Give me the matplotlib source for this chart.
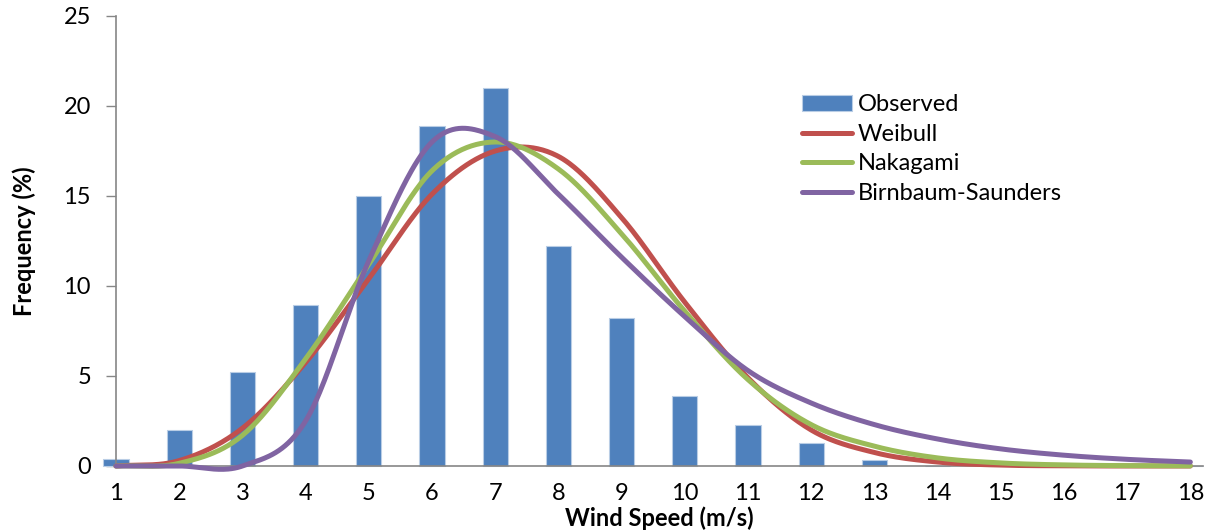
import numpy as np
import matplotlib.pyplot as plt

# wind speed classes (m/s) and frequencies (%)
speed = np.arange(1, 19)
observed = [0.4, 2.0, 5.25, 8.95, 15.0, 18.9, 21.0, 12.2, 8.25, 3.9, 2.3, 1.3, 0.33, 0, 0, 0, 0, 0]
weibull = [0.0, 0.3, 2.1, 5.75, 10.4, 15.1, 17.5, 17.2, 13.8, 9.1, 4.9, 2.0, 0.75, 0.22, 0.05, 0.01, 0.0, 0.0]
nakagami = [0.0, 0.15, 1.7, 5.95, 11.2, 16.4, 18.0, 16.5, 12.9, 8.6, 4.8, 2.3, 1.1, 0.45, 0.17, 0.06, 0.02, 0.01]
birnbaum = [0.0, 0.0, 0.0, 2.5, 11.4, 18.0, 18.3, 15.1, 11.6, 8.3, 5.3, 3.5, 2.3, 1.5, 0.95, 0.6, 0.37, 0.22]


def smooth(x, y, n=40):
    # Excel style smoothed line (Catmull-Rom through the points)
    x = np.asarray(x, float)
    y = np.asarray(y, float)
    m = np.gradient(y)
    xs, ys = [], []
    for i in range(len(x) - 1):
        t = np.linspace(0, 1, n, endpoint=False)
        h00 = 2 * t**3 - 3 * t**2 + 1
        h10 = t**3 - 2 * t**2 + t
        h01 = -2 * t**3 + 3 * t**2
        h11 = t**3 - t**2
        xs.append(x[i] + t * (x[i + 1] - x[i]))
        ys.append(h00 * y[i] + h10 * m[i] + h01 * y[i + 1] + h11 * m[i + 1])
    xs.append([x[-1]])
    ys.append([y[-1]])
    return np.concatenate(xs), np.concatenate(ys)


plt.rcParams['font.family'] = ['Lato', 'DejaVu Sans']

fig = plt.figure(figsize=(12.12, 5.32), dpi=100)
ax = fig.add_axes([116 / 1212, 66 / 532, 1087 / 1212, 450 / 532])

bars = ax.bar(speed, observed, width=0.4, color='#4F81BD', edgecolor='#B9CDE5',
              linewidth=0.8, clip_on=False, zorder=2)
lines = []
for vals, col, name in [(weibull, '#C0504D', 'Weibull'),
                        (nakagami, '#9BBB59', 'Nakagami'),
                        (birnbaum, '#8064A2', 'Birnbaum-Saunders')]:
    sx, sy = smooth(speed, vals)
    ln, = ax.plot(sx, sy, color=col, lw=3.6, solid_capstyle='round',
                  clip_on=False, zorder=3, label=name)
    lines.append(ln)

ax.set_xlim(1, 18.2)
ax.set_ylim(0, 25)
ax.set_xticks(speed)
ax.set_yticks([0, 5, 10, 15, 20, 25])
ax.tick_params(axis='x', length=0, pad=12, labelsize=17)
ax.tick_params(axis='y', length=7, width=1, color='#868686', pad=11, labelsize=17)

for s in ['top', 'right']:
    ax.spines[s].set_visible(False)
for s in ['left', 'bottom']:
    ax.spines[s].set_color('#868686')
    ax.spines[s].set_linewidth(1.2)

ax.set_xlabel('Wind Speed (m/s)', fontsize=17, fontweight='bold')
ax.set_ylabel('Frequency (%)', fontsize=17, fontweight='bold')
ax.xaxis.set_label_coords(0.5, -52 / 450)
ax.xaxis.label.set_va('center')
ax.yaxis.set_label_coords(-92 / 1087, 0.5)
ax.yaxis.label.set_va('center')

ax.legend([bars] + lines, ['Observed', 'Weibull', 'Nakagami', 'Birnbaum-Saunders'],
          loc='upper left', bbox_to_anchor=(802 / 1212, 1 - 94 / 532),
          bbox_transform=fig.transFigure, frameon=False, fontsize=17,
          handlelength=2.1, handleheight=0.65, handletextpad=0.25,
          labelspacing=0.37, borderpad=0, borderaxespad=0)

plt.savefig('out.png', dpi=100)
